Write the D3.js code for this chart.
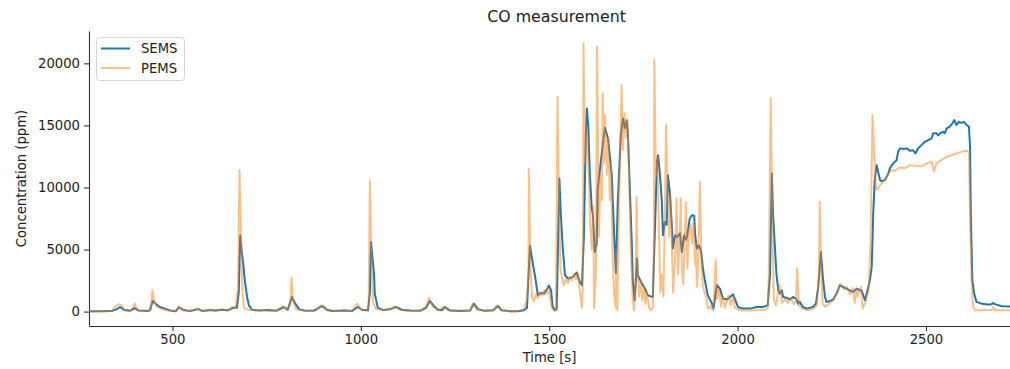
<!DOCTYPE html>
<html>
<head>
<meta charset="utf-8">
<script src="https://cdn.jsdelivr.net/npm/d3@7"></script>
<style>
  body { margin: 0; background: #fff; }
  svg { font-family: "DejaVu Sans", sans-serif; }
</style>
</head>
<body>
<svg id="chart"></svg>
<script>
// Time [s] / concentration [ppm] samples
const semsTime = [278,308,339,353,361,371,387,400,411,435,440,448,456,467,483,499,509,517,528,546,568,581,600,615,631,647,661,671,676,680,684,688,692,698,703,711,732,753,775,796,806,817,825,836,854,876,897,910,923,958,976,992,1003,1019,1024,1027,1032,1035,1037,1045,1061,1077,1093,1109,1130,1157,1173,1183,1194,1205,1215,1223,1237,1263,1290,1300,1311,1329,1351,1364,1374,1396,1417,1433,1441,1449,1457,1462,1470,1478,1486,1494,1499,1505,1509,1515,1520,1527,1531,1536,1542,1550,1563,1573,1581,1587,1592,1597,1600,1604,1608,1613,1616,1621,1626,1629,1634,1642,1648,1656,1666,1672,1677,1682,1690,1696,1701,1706,1709,1714,1719,1722,1727,1733,1735,1746,1754,1762,1773,1775,1781,1786,1789,1794,1799,1802,1807,1812,1815,1820,1826,1828,1834,1839,1847,1852,1858,1863,1866,1873,1879,1885,1887,1892,1897,1903,1908,1913,1921,1932,1936,1945,1953,1961,1972,1980,1988,1993,2001,2014,2033,2051,2067,2080,2086,2091,2094,2099,2103,2108,2112,2117,2121,2131,2139,2147,2157,2160,2165,2173,2184,2200,2208,2214,2221,2227,2232,2236,2245,2253,2263,2271,2279,2289,2298,2307,2316,2324,2329,2338,2347,2351,2356,2360,2364,2369,2373,2378,2382,2391,2400,2404,2413,2422,2426,2431,2440,2449,2457,2466,2472,2479,2488,2497,2506,2515,2519,2528,2532,2537,2546,2550,2555,2563,2570,2575,2581,2587,2594,2601,2608,2614,2617,2619,2623,2628,2634,2648,2665,2674,2678,2683,2701,2723];
const semsValue = [30,20,40,200,370,150,60,270,80,50,100,860,600,370,200,60,20,350,150,50,200,50,120,80,150,100,300,300,1500,6150,4800,3870,2520,1200,500,150,80,120,60,370,150,1180,700,200,60,80,450,150,50,80,40,370,150,100,1500,5610,4000,3090,1470,300,120,180,370,150,80,60,300,860,450,150,100,370,80,50,80,640,200,60,100,450,100,30,30,100,300,5300,3800,2930,1310,1500,1450,1800,2100,1700,400,100,200,10730,7770,5100,2930,2660,2800,3140,2390,2120,6000,14000,16370,14780,10990,8300,7770,4800,5400,9940,11260,13410,14800,13970,10990,6500,3090,8840,14220,15560,14780,15400,14220,9920,5610,2390,910,4270,2930,2260,1850,1310,1180,1200,7000,12070,12600,11000,8840,6150,7230,7000,10990,9650,6690,5080,6150,6000,6300,4800,6150,5800,6050,7500,7770,7700,6300,5080,5350,4900,3470,2520,1310,640,250,2120,1850,1050,970,1180,1390,1000,370,240,240,370,370,500,3000,11130,7900,5210,3060,1720,1450,1720,1180,1100,970,1180,970,640,800,370,240,370,640,2000,4800,2520,1180,780,850,950,1450,2120,2000,1850,1700,1580,1850,1720,1720,910,1980,2520,3600,7900,10590,11800,11260,10590,10500,10590,11130,11530,11940,12200,12870,13150,13100,13150,12950,13000,12740,13150,13410,13680,13820,13950,14360,14360,14200,14360,14490,14360,14760,14900,15160,15430,15030,15290,15200,15290,15030,14890,13270,7900,2520,1450,780,640,570,600,700,600,430,400];

const pemsTime = [278,308,339,350,358,366,374,387,395,400,406,414,435,443,447,451,459,472,493,509,517,528,546,568,578,600,615,631,647,658,668,674,678,682,686,690,700,719,737,759,775,793,804,813,816,820,828,844,865,881,894,902,913,931,958,976,990,1000,1014,1021,1024,1028,1032,1040,1059,1077,1091,1104,1130,1157,1173,1181,1191,1205,1221,1231,1263,1290,1297,1308,1329,1351,1361,1372,1396,1417,1433,1441,1445,1446,1450,1454,1459,1465,1470,1475,1481,1486,1491,1497,1502,1507,1512,1518,1522,1526,1530,1534,1539,1544,1550,1555,1560,1565,1571,1576,1581,1587,1589,1591,1595,1600,1605,1609,1613,1617,1619,1624,1627,1632,1636,1640,1642,1646,1648,1653,1657,1661,1664,1668,1672,1677,1678,1681,1685,1688,1692,1696,1700,1704,1707,1711,1714,1718,1722,1725,1729,1732,1735,1739,1743,1747,1751,1755,1759,1765,1770,1775,1778,1779,1783,1787,1791,1795,1799,1803,1807,1810,1814,1818,1822,1826,1829,1834,1838,1842,1847,1849,1852,1856,1860,1863,1867,1871,1875,1879,1883,1887,1889,1892,1895,1900,1904,1908,1913,1918,1921,1929,1934,1937,1942,1945,1950,1956,1961,1966,1972,1977,1982,1988,1993,2006,2033,2059,2075,2080,2083,2088,2092,2096,2102,2107,2112,2118,2126,2133,2141,2149,2155,2158,2163,2173,2187,2200,2210,2216,2218,2222,2226,2234,2245,2256,2266,2274,2282,2290,2298,2306,2311,2316,2319,2327,2332,2340,2348,2353,2358,2362,2366,2369,2378,2391,2400,2409,2417,2431,2444,2457,2470,2488,2502,2515,2521,2528,2541,2555,2568,2581,2594,2608,2614,2617,2621,2625,2630,2648,2674,2678,2683,2723];
const pemsValue = [0,30,50,450,590,500,80,50,300,650,200,30,50,200,1720,900,400,200,50,60,430,100,30,250,30,150,50,180,60,370,300,2000,11400,6000,1500,300,150,100,120,60,80,430,150,600,2740,800,200,80,60,100,500,450,100,40,100,50,640,200,80,300,10590,5000,800,200,100,200,400,150,50,80,400,1100,400,100,400,100,60,100,640,150,40,80,500,100,20,40,200,1000,3000,11530,4000,1200,800,1400,1100,1600,1300,1700,1400,1900,1200,300,100,150,17300,9000,3500,2700,2100,2600,2300,2800,2500,3000,2600,3100,1700,300,2000,21600,12000,15000,11000,7000,5000,8500,260,3000,21340,6000,11000,9000,17600,12000,15830,11000,14000,9000,12000,5000,1500,300,5000,100,9000,12000,18250,13000,16000,14000,15500,12000,8500,4000,1000,100,2000,9240,3000,1200,2500,900,2000,600,1500,300,100,300,5000,20270,11000,12500,7000,1580,3000,1200,7500,15030,10000,6000,9500,5000,1500,4000,9110,3000,6500,9110,3500,2200,6000,8800,3500,6500,7000,5500,7200,3800,5500,2000,3500,10450,4000,2000,1500,1000,240,400,100,800,4140,1000,1800,400,1200,300,900,1300,500,1200,300,100,80,120,150,300,3000,17180,8000,1000,500,1500,2120,700,1000,700,1100,600,900,3470,500,200,100,200,500,3000,8840,3000,600,400,700,1000,1600,2200,1800,2000,1400,1900,700,1850,1200,2000,260,800,1800,5750,15830,13270,10320,9780,10190,10590,11130,11400,11350,11610,11550,11800,11750,11700,11940,12070,11260,11950,12200,12470,12600,12740,12870,12950,12870,7700,2520,370,100,100,120,350,100,100];

const xTicks = [500, 1000, 1500, 2000, 2500];
const yTicks = [0, 5000, 10000, 15000, 20000];
const seriesNames = ["SEMS", "PEMS"];

// Chart dimensions and margins
const width = 1010;
const height = 369;
const marginTop = 31;
const marginRight = 0;
const marginBottom = 43;
const marginLeft = 89;

const x = d3.scaleLinear()
    .domain([278.6, 2723])
    .range([marginLeft, width - marginRight]);

const y = d3.scaleLinear()
    .domain([-1161, 22605])
    .range([height - marginBottom, marginTop]);

const svg = d3.select("#chart")
    .attr("width", width)
    .attr("height", height);

svg.append("defs").append("clipPath")
    .attr("id", "plot-clip")
  .append("rect")
    .attr("x", marginLeft)
    .attr("y", marginTop)
    .attr("width", width - marginLeft - marginRight)
    .attr("height", height - marginTop - marginBottom);

// x-axis
const gx = svg.append("g")
    .attr("transform", `translate(0,${height - marginBottom})`)
    .call(d3.axisBottom(x).tickValues(xTicks).tickFormat(d3.format("d")).tickSize(5).tickPadding(4).tickSizeOuter(0));

// y-axis
const gy = svg.append("g")
    .attr("transform", `translate(${marginLeft},0)`)
    .call(d3.axisLeft(y).tickValues(yTicks).tickFormat(d3.format("d")).tickSize(5).tickPadding(4).tickSizeOuter(0));

[gx, gy].forEach(g => {
  g.selectAll("path, line").attr("stroke", "#333").attr("stroke-width", 1.1);
  g.selectAll("text").attr("font-size", 13.2).attr("fill", "#222")
      .attr("font-family", "DejaVu Sans, sans-serif");
});

// series
const semsData = semsTime.map((t, i) => [t, semsValue[i]]);
const pemsData = pemsTime.map((t, i) => [t, pemsValue[i]]);

const line = d3.line()
    .x(d => x(d[0]))
    .y(d => y(d[1]));

const plot = svg.append("g").attr("clip-path", "url(#plot-clip)");

plot.append("path")
    .datum(semsData)
    .attr("fill", "none")
    .attr("stroke", "#1f77b4")
    .attr("stroke-width", 2)
    .attr("stroke-linejoin", "round")
    .attr("d", line);

plot.append("path")
    .datum(pemsData)
    .attr("fill", "none")
    .attr("stroke", "#ff7f0e")
    .attr("stroke-opacity", 0.5)
    .attr("stroke-width", 2)
    .attr("stroke-linejoin", "round")
    .attr("d", line);

// title and labels
svg.append("text")
    .attr("x", (marginLeft + width - marginRight) / 2 + 7)
    .attr("y", 22)
    .attr("text-anchor", "middle")
    .attr("font-size", 15.8)
    .attr("fill", "#222")
    .text("CO measurement");

svg.append("text")
    .attr("x", (marginLeft + width - marginRight) / 2)
    .attr("y", 362)
    .attr("text-anchor", "middle")
    .attr("font-size", 13.2)
    .attr("fill", "#222")
    .text("Time [s]");

svg.append("text")
    .attr("transform", `translate(26,${(marginTop + height - marginBottom) / 2}) rotate(-90)`)
    .attr("text-anchor", "middle")
    .attr("font-size", 13.2)
    .attr("fill", "#222")
    .text("Concentration (ppm)");

// legend
const legend = svg.append("g");
legend.append("rect")
    .attr("x", 96.5).attr("y", 37.5)
    .attr("width", 88).attr("height", 43)
    .attr("rx", 3)
    .attr("fill", "#fff").attr("fill-opacity", 0.8)
    .attr("stroke", "#d6d6d6");

const legendColors = ["#1f77b4", "#ff7f0e"];
const legendOpacity = [1, 0.5];
seriesNames.forEach((name, i) => {
  const ly = 48.5 + i * 19.5;
  legend.append("line")
      .attr("x1", 101).attr("x2", 130)
      .attr("y1", ly).attr("y2", ly)
      .attr("stroke", legendColors[i])
      .attr("stroke-opacity", legendOpacity[i])
      .attr("stroke-width", 2);
  legend.append("text")
      .attr("x", 141).attr("y", ly + 4.8)
      .attr("font-size", 13.2)
      .attr("fill", "#222")
      .text(name);
});
</script>
</body>
</html>
